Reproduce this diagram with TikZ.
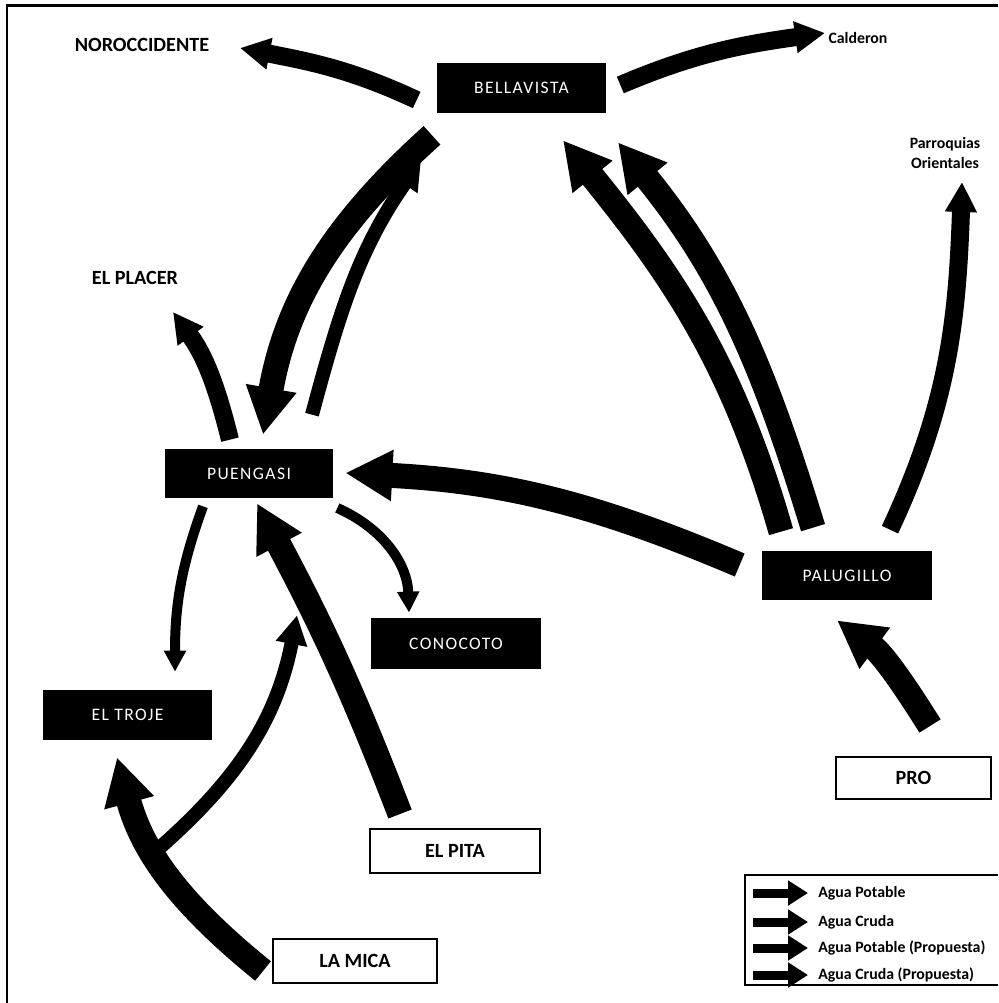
\documentclass[tikz,border=0pt]{standalone}
\usepackage{fontspec}
\setmainfont{Carlito}
\newfontfamily\spacedfont[LetterSpace=8]{Carlito}
\usetikzlibrary{arrows.meta,calc}
\begin{document}
\begin{tikzpicture}[x=0.02cm,y=0.02cm,
  darkbox/.style={fill=black,text=white,inner sep=0pt,minimum height=1cm,
    font=\spacedfont\fontsize{10}{12}\selectfont},
  lightbox/.style={draw=black,line width=0.04cm,fill=white,inner sep=0pt,
    minimum height=0.88cm,font=\bfseries\fontsize{11.5}{13}\selectfont},
  place/.style={font=\bfseries\fontsize{11.5}{13}\selectfont,inner sep=0pt},
  smallplace/.style={font=\bfseries\fontsize{9}{11.3}\selectfont,inner sep=0pt,align=center},
  legtext/.style={font=\bfseries\fontsize{9}{10}\selectfont,anchor=west,inner sep=0pt},
  flowxl/.style={line width=0.5cm,-{Triangle[length=0.94cm,width=0.96cm]}},
  flowl/.style={line width=0.36cm,-{Triangle[length=0.6cm,width=0.6cm]}},
  flowm/.style={line width=0.28cm,-{Triangle[length=0.58cm,width=0.6cm]}},
  flows/.style={line width=0.2cm,-{Triangle[length=0.42cm,width=0.42cm]}},
  flowleg/.style={line width=0.18cm,-{Triangle[length=0.4cm,width=0.48cm]}},
]
\useasboundingbox (0,0) rectangle (998,-1003);
% outer frame
\draw[line width=0.06cm] (7,-1003) -- (7,-6) -- (998,-6);

% plants and tanks
\node[darkbox,minimum width=3.38cm] (bella) at (521.5,-88) {BELLAVISTA};
\node[darkbox,minimum width=3.36cm,minimum height=0.98cm] (pueng) at (249,-473.5) {PUENGASI};
\node[darkbox,minimum width=3.4cm,minimum height=0.98cm] (palu) at (847,-575.5) {PALUGILLO};
\node[darkbox,minimum width=3.4cm,minimum height=1.02cm] (cono) at (456,-643.5) {CONOCOTO};
\node[darkbox,minimum width=3.38cm] (troje) at (127.5,-715) {EL TROJE};
\node[lightbox,minimum width=3.4cm] (pita) at (455,-851) {EL PITA};
\node[lightbox,minimum width=3.28cm] (mica) at (355,-961) {LA MICA};
\node[lightbox,minimum width=3.1cm,minimum height=0.84cm] (pro) at (913.5,-778) {PRO};

% served areas
\node[place] (noroc) at (142,-45) {NOROCCIDENTE};
\node[place] (placer) at (135,-278) {EL PLACER};
\node[smallplace] (calde) at (858,-38) {Calderon};
\node[smallplace] (parroq) at (945,-153) {Parroquias\\Orientales};

% flows out of Bellavista
\draw[flowl] ($(bella.west)+(-20,-12)$) to[out=155,in=-11] ($(noroc.center)+(98,-3)$);
\draw[flowl] ($(bella.east)+(14,3)$) to[out=23,in=-172] ($(calde.center)+(-33,5)$);
\draw[flowxl] ($(bella.south)+(-89.5,-22)$) to[out=222,in=80] ($(pueng.north)+(14,14)$);

% flows out of Palugillo
\draw[flowxl] ($(palu.north)+(-66,19)$) to[out=106,in=-51] ($(bella.south)+(41.5,-27)$);
\draw[flowxl] ($(palu.north)+(-34,23)$) to[out=107,in=-51] ($(bella.south)+(96.5,-29)$);
\draw[flowl] ($(palu.north)+(43,21)$) to[out=65,in=-92] ($(parroq.center)+(17,-29)$);
\draw[flowxl] ($(palu.west)+(-22,10.5)$) to[out=157,in=-3] ($(pueng.east)+(12,0.5)$);

% flows out of Puengasi
\draw[flowm] ($(pueng.north)+(63,34)$) to[out=75,in=-125] ($(bella.south)+(-100.5,-47)$);
\draw[flowl] ($(pueng.north)+(-19,9)$) to[out=104,in=-54] ($(placer.center)+(38,-34)$);
\draw[flows] ($(pueng.east)+(4,-34.5)$) to[out=-24,in=92] ($(cono.north)+(-47,5)$);
\draw[flows] ($(pueng.south)+(-46,-8)$) to[out=-110,in=90] ($(troje.north)+(47.5,18)$);

% raw water sources
\draw[flowxl] ($(pita.north)+(-55,14)$) to[out=111,in=-62] ($(pueng.south)+(8,-5)$);
\draw[flowxl] ($(mica.west)+(-9,-10)$) to[out=141,in=-75] coordinate[pos=0.62] (split) ($(troje.south)+(-10.5,-17)$);
\draw[flowm] (split) to[out=41,in=-101] ($(pueng.south)+(48,-117)$);
\draw[flowxl] ($(pro.north)+(16.5,30)$) to[out=122,in=-36.5] ($(palu.south)+(-10,-20)$);

% legend
\draw[line width=0.05cm] (998,-875) -- (745,-875) -- (745,-985) -- (998,-985);
\node[legtext] (lg1) at (818,-893) {Agua Potable};
\node[legtext] (lg2) at (818,-922) {Agua Cruda};
\node[legtext] (lg3) at (818,-948) {Agua Potable (Propuesta)};
\node[legtext] (lg4) at (818,-975) {Agua Cruda (Propuesta)};
\foreach \k in {lg1,lg2,lg3,lg4}
  \draw[flowleg] ($(\k.west)+(-65,0)$) -- ($(\k.west)+(-10,0)$);
\end{tikzpicture}
\end{document}
